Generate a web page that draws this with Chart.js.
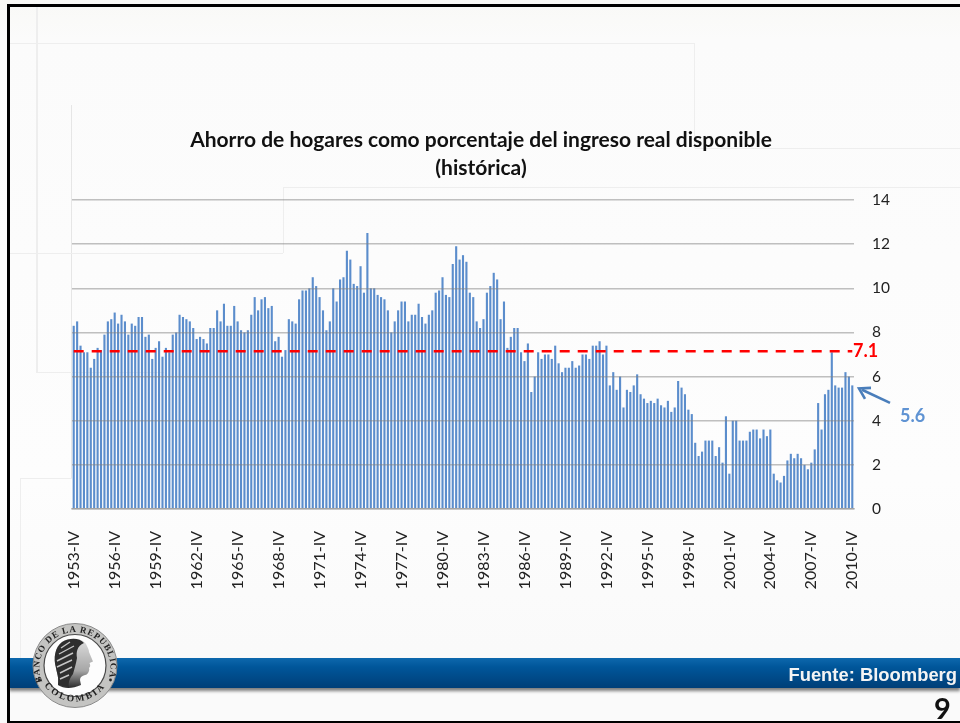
<!DOCTYPE html>
<html lang="es">
<head>
<meta charset="utf-8">
<title>Ahorro de hogares</title>
<script src="https://cdn.jsdelivr.net/npm/chart.js@4/dist/chart.umd.min.js"></script>
<style>
html,body{margin:0;padding:0;background:#fbfbfa;}
#slide{position:relative;width:960px;height:723px;overflow:hidden;background:linear-gradient(#f9f9f6 0,#fbfbfb 40px,#fdfdfd 480px,#fafafa 650px);}
.ln{position:absolute;background:#eeeeee;}
#top{position:absolute;left:7px;top:4px;width:953px;height:2.5px;background:#000;}
#left{position:absolute;left:7px;top:4px;width:2.5px;height:718px;background:#000;}
#bot{position:absolute;left:7px;top:720.5px;width:953px;height:2px;background:#000;}
#band{position:absolute;left:9px;top:658px;width:951px;height:30px;background:linear-gradient(#0d68ad 0,#00569a 30%,#003f78 100%);box-shadow:0 3px 3px rgba(60,60,60,.65);}
#src{position:absolute;right:3px;top:664px;font:bold 18.4px "Liberation Sans",Arial,sans-serif;color:#f4f4f4;white-space:nowrap;}
#pg{position:absolute;left:934px;top:690px;font:bold 29px Lato,sans-serif;color:#111;line-height:36px;}
canvas{position:absolute;left:0;top:0;filter:blur(0.3px);}
#logo{position:absolute;left:30px;top:622px;width:90px;height:92px;filter:blur(0.35px);}
</style>
</head>
<body>
<div id="slide">
  <div class="ln" style="left:36px;top:6px;width:2px;height:366px"></div>
  <div class="ln" style="left:9px;top:43px;width:686px;height:1px"></div>
  <div class="ln" style="left:694px;top:43px;width:1px;height:105px"></div>
  <div class="ln" style="left:695px;top:148px;width:265px;height:1px"></div>
  <div class="ln" style="left:71px;top:105px;width:1px;height:373px;background:#e6e6e6"></div>
  <div class="ln" style="left:283px;top:187px;width:1px;height:66px"></div>
  <div class="ln" style="left:283px;top:187px;width:677px;height:1px"></div>
  <div class="ln" style="left:9px;top:253px;width:274px;height:1px"></div>
  <div class="ln" style="left:36px;top:372px;width:128px;height:1px"></div>
  <div class="ln" style="left:20px;top:478px;width:52px;height:1px"></div>
  <div class="ln" style="left:20px;top:478px;width:1px;height:180px"></div>
  <div id="band"></div>
  <canvas id="chart" width="960" height="723"></canvas>
  <svg id="logo" viewBox="0 0 90 92" xmlns="http://www.w3.org/2000/svg">
    <defs>
      <path id="arcTop" d="M 13 61 A 35.5 35.5 0 1 1 77 61"/>
      <path id="arcBot" d="M 8 50 A 38 38 0 0 0 82 50"/>
      <linearGradient id="neck" x1="0" y1="0" x2="0" y2="1"><stop offset="0" stop-color="#dedede"/><stop offset="0.65" stop-color="#a6a6a6"/><stop offset="1" stop-color="#2a2a2a"/></linearGradient>
    </defs>
    <circle cx="45" cy="43.5" r="42" fill="#c4c4c2" stroke="#8a8a8a" stroke-width="1"/>
    <circle cx="45" cy="43.5" r="31" fill="#fdfdfd" stroke="#4a4a4a" stroke-width="1.2"/>
    <text font-family="Liberation Serif,serif" font-weight="bold" font-size="9" fill="#222" letter-spacing="0.9"><textPath href="#arcTop" startOffset="1%">BANCO DE LA REPUBLICA</textPath></text>
    <text font-family="Liberation Serif,serif" font-weight="bold" font-size="9.5" fill="#222" letter-spacing="2.2" text-anchor="middle"><textPath href="#arcBot" startOffset="50%">COLOMBIA</textPath></text>
    <circle cx="9.5" cy="58" r="1.4" fill="#222"/><circle cx="80.5" cy="58" r="1.4" fill="#222"/>
    <path d="M32 20 C40 15 52 16 56 22 C58 26 59 28 59 30 L63 39.5 L59.5 41 C60.5 43 60.5 45 59 46 C60 48 58 53 55 53 C52 54 50 55 50 58 L51 63 C42 67 34 67 28 63 C29 55 27 52 26 46 C23 36 25 25 32 20 Z" fill="url(#neck)"/>
    <path d="M32 20 C40 15 50 16 54 21 C47 24 46 30 47 36 C46 42 44 48 43 52 C40 56 38 60 39 65 L28 63 C29 55 27 52 26 46 C23 36 25 25 32 20 Z" fill="#2e2e2e"/>
    <path d="M31 26 L40 20 M29 32 L44 24 M27 39 L43 31 M27 45 L42 38 M30 51 L42 45 M30 57 L39 53" stroke="#c6c6c6" stroke-width="1.4" fill="none"/>
  </svg>
  <div id="top"></div><div id="left"></div><div id="bot"></div>
  <div id="src">Fuente: Bloomberg</div>
  <div id="pg">9</div>
</div>
<script>
const chartTitle = ["Ahorro de hogares como porcentaje del ingreso real disponible", "(histórica)"];
const firstYear = 1953;
const romanQuarters = ["I", "II", "III", "IV"];
const savingsRate = [
 8.3,8.5,7.4,7.1,7.1,6.4,6.8,7.3,7.2,7.9,8.5,8.6,8.9,8.4,8.8,8.5,7.9,8.4,8.3,8.7,
 8.7,7.8,7.9,6.8,7.3,7.6,6.9,7.3,7.1,7.9,8.0,8.8,8.7,8.6,8.5,8.2,7.7,7.8,7.7,7.5,
 8.2,8.2,9.0,8.5,9.3,8.3,8.3,9.2,8.5,8.1,8.0,8.1,8.8,9.6,9.0,9.5,9.6,9.1,9.2,7.6,
 7.8,6.9,7.2,8.6,8.5,8.4,9.5,9.9,9.9,10.0,10.5,10.1,9.6,9.0,8.1,8.5,10.0,9.4,10.4,10.5,
 11.7,11.3,10.2,10.1,11.0,9.8,12.5,10.0,10.0,9.7,9.6,9.5,9.0,8.0,8.5,9.0,9.4,9.4,8.5,8.8,
 8.8,9.3,8.7,8.4,8.8,9.0,9.8,9.9,10.5,9.7,9.6,11.1,11.9,11.3,11.5,11.2,9.8,9.6,8.5,8.2,
 8.6,9.8,10.1,10.7,10.4,8.6,9.4,7.3,7.8,8.2,8.2,7.1,6.7,7.5,5.3,6.0,7.1,6.8,7.0,7.0,
 6.8,7.4,6.6,6.2,6.4,6.4,6.7,6.4,6.5,7.0,7.0,6.8,7.4,7.4,7.6,7.0,7.4,5.6,6.2,5.4,
 6.0,4.6,5.4,5.3,5.6,6.1,5.2,5.0,4.8,4.9,4.8,5.0,4.7,4.6,4.9,4.4,4.6,5.8,5.5,5.2,
 4.5,4.3,3.0,2.4,2.6,3.1,3.1,3.1,2.4,2.8,2.1,4.2,1.6,4.0,4.0,3.1,3.1,3.1,3.5,3.6,
 3.6,3.2,3.6,3.3,3.6,1.6,1.3,1.2,1.5,2.2,2.5,2.3,2.5,2.3,2.0,1.8,2.1,2.7,4.8,3.6,
 5.2,5.4,7.1,5.6,5.5,5.5,6.2,6.0,5.6
];
const historicAverage = 7.15;
const averageLabel = "7.1";
const latestLabel = "5.6";
const labelEvery = 12;

const categories = savingsRate.map((_, i) => {
  const q = 3 + i;
  return (firstYear + Math.floor(q / 4)) + "-" + romanQuarters[q % 4];
});

const annotations = {
  id: "annotations",
  afterDatasetsDraw(chart) {
    const { ctx, scales: { y }, chartArea } = chart;
    const yAvg = y.getPixelForValue(historicAverage);
    ctx.save();
    ctx.font = "bold 18px Lato, sans-serif";
    ctx.fillStyle = "#ff0000";
    ctx.textBaseline = "middle";
    ctx.textAlign = "left";
    ctx.fillText(averageLabel, chartArea.right - 1, yAvg + 0.5);
    ctx.fillStyle = "#5f93d3";
    ctx.fillText(latestLabel, chartArea.right + 46, y.getPixelForValue(4.2));
    const tipY = y.getPixelForValue(5.6) - 0.5;
    const tx = chartArea.right + 5, ty = tipY + 3.5, sx = chartArea.right + 36, sy = tipY + 18;
    ctx.strokeStyle = "#4a7ebb";
    ctx.lineWidth = 2.6;
    ctx.beginPath(); ctx.moveTo(sx, sy); ctx.lineTo(tx + 3, ty + 1.4); ctx.stroke();
    ctx.beginPath(); ctx.moveTo(tx + 12, ty - 0.5); ctx.lineTo(tx, ty); ctx.lineTo(tx + 6, ty + 10.5); ctx.stroke();
    ctx.restore();
  }
};

new Chart(document.getElementById("chart"), {
  type: "bar",
  data: {
    labels: categories,
    datasets: [
      { type: "line", label: "Promedio", data: categories.map(() => historicAverage), borderColor: "#ff0000", borderWidth: 2.6, borderDash: [10, 8], pointRadius: 0, fill: false, order: 0 },
      { type: "bar", label: "Ahorro", data: savingsRate, backgroundColor: "#5b8dcc", borderWidth: 0, barPercentage: 0.62, categoryPercentage: 1, order: 1 }
    ]
  },
  options: {
    responsive: false,
    animation: false,
    layout: { padding: { left: 72, right: 70, top: 126, bottom: 130 } },
    plugins: {
      legend: { display: false },
      tooltip: { enabled: false },
      title: {
        display: true,
        text: chartTitle,
        color: "#111111",
        font: { family: "Lato, sans-serif", size: 21, weight: "bold", lineHeight: 1.333 },
        padding: { top: 0, bottom: 18 }
      }
    },
    scales: {
      x: {
        offset: true,
        afterFit(s) { s.height = 84; },
        grid: { display: false },
        border: { color: "#c4c4c4", width: 1.5, z: 1 },
        ticks: {
          autoSkip: false, minRotation: 90, maxRotation: 90, padding: 14,
          color: "#222222", font: { family: "Lato, sans-serif", size: 16 },
          callback(v, i) { return i % labelEvery === 0 ? this.getLabelForValue(v) : null; }
        }
      },
      y: {
        position: "right",
        min: 0, max: 14,
        afterFit(s) { s.width = 36; },
        grid: { color: "rgba(130,130,130,0.5)", lineWidth: 1.4, drawTicks: false, z: 1 },
        border: { display: false },
        ticks: { stepSize: 2, padding: 18, color: "#222222", crossAlign: "near", font: { family: "Lato, sans-serif", size: 15.5 } }
      }
    }
  },
  plugins: [annotations]
});
</script>
</body>
</html>
